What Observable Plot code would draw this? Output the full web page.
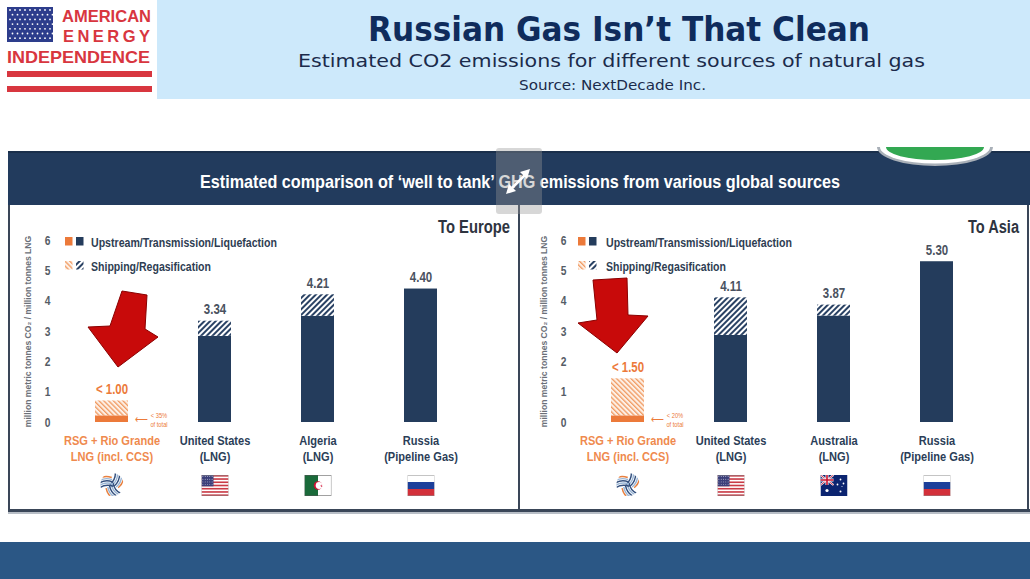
<!DOCTYPE html>
<html>
<head>
<meta charset="utf-8">
<script src="https://cdn.jsdelivr.net/npm/d3@7"></script>
<script src="https://cdn.jsdelivr.net/npm/@observablehq/plot@0.6"></script>
<style>
  html, body { margin: 0; padding: 0; background: #fff; }
  #page { position: relative; width: 1030px; height: 579px; overflow: hidden; background: #fff; }
  .abs { position: absolute; left: 0; top: 0; }
</style>
</head>
<body>
<div id="page">
<svg class="abs" id="deco" width="1030" height="579"></svg>
<div id="leftPanel" style="position:absolute;left:8px;top:205px;"></div>
<div id="rightPanel" style="position:absolute;left:519px;top:205px;"></div>
<svg class="abs" id="over" width="1030" height="579" style="pointer-events:none"></svg>
</div>
<svg width="0" height="0" style="position:absolute">
  <defs>
    <pattern id="hatchNavy" patternUnits="userSpaceOnUse" width="4" height="4" patternTransform="rotate(45)">
      <rect width="4" height="4" fill="#ffffff"/>
      <rect width="2" height="4" fill="#2a4264"/>
    </pattern>
    <pattern id="hatchOrange" patternUnits="userSpaceOnUse" width="3.4" height="3.4" patternTransform="rotate(-45)">
      <rect width="3.4" height="3.4" fill="#fdf0e6"/>
      <rect width="1.3" height="3.4" fill="#f09a62"/>
    </pattern>
  </defs>
</svg>
<script>
// ---------------- DATA ----------------
const yTicks = [0, 1, 2, 3, 4, 5, 6];

const europeCategories = ["RSG + Rio Grande\nLNG (incl. CCS)", "United States\n(LNG)", "Algeria\n(LNG)", "Russia\n(Pipeline Gas)"];
const europeUpstream = [0.22, 2.84, 3.50, 4.40];
const europeShipping = [0.49, 0.50, 0.71, 0.00];
const europeTotals = ["< 1.00", "3.34", "4.21", "4.40"];
const europeFlags = ["rsg", "us", "dz", "ru"];

const asiaCategories = ["RSG + Rio Grande\nLNG (incl. CCS)", "United States\n(LNG)", "Australia\n(LNG)", "Russia\n(Pipeline Gas)"];
const asiaUpstream = [0.22, 2.87, 3.51, 5.30];
const asiaShipping = [1.22, 1.24, 0.36, 0.00];
const asiaTotals = ["< 1.50", "4.11", "3.87", "5.30"];
const asiaFlags = ["rsg", "us", "au", "ru"];

const shareOfTotal = ["< 35%\nof total", "< 20%\nof total"];
const panelTitles = ["To Europe", "To Asia"];
const legendLabels = ["Upstream/Transmission/Liquefaction", "Shipping/Regasification"];
const yLabel = "million metric tonnes CO\u2082 / million tonnes LNG";

const pageTitle = "Russian Gas Isn\u2019t That Clean";
const pageSubtitle = "Estimated CO2 emissions for different sources of natural gas";
const pageSource = "Source: NextDecade Inc.";
const bannerText = "Estimated comparison of \u2018well to tank\u2019 GHG emissions from various global sources";

// ---------------- STYLE ----------------
const NAVY = "#243c5c";
const ORANGE = "#ec7a3a";
const LABEL_NAVY = "#2b3e58";
const GRAY = "#555c66";
const CHART_FONT = "'Liberation Sans Narrow', 'Liberation Sans', Arial, sans-serif";
const HEAD_FONT = "'DejaVu Sans Condensed', 'DejaVu Sans', sans-serif";
const NARROW = 0.82;
const NS = "http://www.w3.org/2000/svg";

function el(parent, tag, attrs, text) {
  const e = document.createElementNS(NS, tag);
  for (const k in attrs) e.setAttribute(k, attrs[k]);
  if (text != null) e.textContent = text;
  parent.appendChild(e);
  return e;
}

// ---------------- FLAG ICONS ----------------
function usFlag() {
  let s = '<svg xmlns="http://www.w3.org/2000/svg" width="27" height="21" viewBox="0 0 27 21"><rect width="27" height="21" fill="#fff"/>';
  const h = 21 / 13;
  for (let i = 0; i < 13; i += 2) s += `<rect y="${i * h}" width="27" height="${h}" fill="#c93a45"/>`;
  s += '<rect width="12" height="11.3" fill="#3c3f7a"/>';
  for (let r = 0; r < 4; r++) for (let c = 0; c < 5; c++) s += `<circle cx="${1.4 + c * 2.3}" cy="${1.5 + r * 2.7}" r="0.45" fill="#fff"/>`;
  s += '<rect x="0.25" y="0.25" width="26.5" height="20.5" fill="none" stroke="#8a8a8a" stroke-width="0.5"/></svg>';
  return s;
}
function ruFlag() {
  return '<svg xmlns="http://www.w3.org/2000/svg" width="27" height="21" viewBox="0 0 27 21"><rect width="27" height="7" fill="#fff"/><rect y="7" width="27" height="7" fill="#1c3f9a"/><rect y="14" width="27" height="7" fill="#d3303a"/><rect x="0.25" y="0.25" width="26.5" height="20.5" fill="none" stroke="#8a8a8a" stroke-width="0.5"/></svg>';
}
function dzFlag() {
  return '<svg xmlns="http://www.w3.org/2000/svg" width="27" height="21" viewBox="0 0 27 21"><rect width="27" height="21" fill="#fff"/><rect width="13.5" height="21" fill="#1a6a3a"/><circle cx="13.5" cy="10.5" r="4.2" fill="#d21034"/><circle cx="14.6" cy="10.5" r="3.4" fill="#fff"/><polygon points="16,10.5 17.4,9.4 17,11.1 18.1,12 16.6,11.7" fill="#d21034"/><rect x="0.25" y="0.25" width="26.5" height="20.5" fill="none" stroke="#555" stroke-width="0.6"/></svg>';
}
function auFlag() {
  return '<svg xmlns="http://www.w3.org/2000/svg" width="27" height="21" viewBox="0 0 27 21"><rect width="27" height="21" fill="#0b2470"/>' +
    '<g><rect width="13" height="10" fill="#0b2470"/><path d="M0 0 L13 10 M13 0 L0 10" stroke="#fff" stroke-width="2"/><path d="M0 0 L13 10 M13 0 L0 10" stroke="#c8102e" stroke-width="0.8"/><path d="M6.5 0 V10 M0 5 H13" stroke="#fff" stroke-width="3"/><path d="M6.5 0 V10 M0 5 H13" stroke="#c8102e" stroke-width="1.6"/></g>' +
    '<circle cx="6.5" cy="15.5" r="1.6" fill="#fff"/><circle cx="20" cy="4.5" r="0.9" fill="#fff"/><circle cx="17" cy="9.5" r="0.9" fill="#fff"/><circle cx="23" cy="8.5" r="0.9" fill="#fff"/><circle cx="20" cy="16.5" r="1" fill="#fff"/><circle cx="21.5" cy="11.5" r="0.5" fill="#fff"/></svg>';
}
function rsgLogo() {
  let s = '<svg xmlns="http://www.w3.org/2000/svg" width="27" height="27" viewBox="-14 -14 28 28"><defs><clipPath id="c"><circle r="12"/></clipPath></defs><g clip-path="url(#c)">';
  const cols = ["#34507e", "#9ab6d6", "#34507e", "#9ab6d6", "#e8803f"];
  for (let k = 0; k < 3; k++) {
    s += `<g transform="rotate(${k * 120 + 20})">`;
    for (let j = 0; j < 5; j++) {
      s += `<path d="M ${-2 + j * 2.3} 1 Q ${2 + j * 2.3} -6 ${-1 + j * 2.3} -13" stroke="${cols[j]}" stroke-width="1.5" fill="none"/>`;
    }
    s += '</g>';
  }
  s += '</g></svg>';
  return s;
}
const flagSvg = { us: usFlag(), ru: ruFlag(), dz: dzFlag(), au: auFlag(), rsg: rsgLogo() };
const uri = (s) => "data:image/svg+xml;charset=utf-8," + encodeURIComponent(s);

// ---------------- PANEL CHART ----------------
function makePanel(cats, up, ship, totals, flags, share, ml, mr) {
  const rows = [];
  cats.forEach((c, i) => {
    rows.push({ cat: c, part: "up", y1: 0, y2: up[i], rsg: i === 0 });
    rows.push({ cat: c, part: "ship", y1: up[i], y2: up[i] + ship[i], rsg: i === 0 });
  });
  const tops = cats.map((c, i) => ({ cat: c, y: up[i] + ship[i], label: totals[i], rsg: i === 0, flag: flags[i] }));
  const rsgRow = [{ cat: cats[0], y: up[0] / 2, share }];

  const svg = Plot.plot({
    width: 511,
    height: 305,
    marginLeft: ml,
    marginRight: mr,
    marginTop: 35,
    marginBottom: 88,
    style: { background: "transparent", fontFamily: CHART_FONT, overflow: "visible" },
    x: { domain: cats, paddingInner: 0.68, paddingOuter: 0.37, axis: null },
    y: { domain: [0, 6] },
    marks: [
      Plot.axisY({ ticks: yTicks, tickFormat: "d", tickSize: 0, tickPadding: 5, fontSize: 12.5, fontWeight: "bold", label: null, color: GRAY, fill: GRAY }),
      Plot.text([yLabel], { frameAnchor: "left", textAnchor: "middle", dx: -27, rotate: -90, fontSize: 8.6, fontWeight: "bold", fill: "#6b7078", text: (d) => d }),
      Plot.barY(rows.filter((d) => d.part === "up" && d.rsg), { x: "cat", y1: "y1", y2: "y2", fill: ORANGE }),
      Plot.barY(rows.filter((d) => d.part === "ship" && d.rsg), { x: "cat", y1: "y1", y2: "y2", fill: "url(#hatchOrange)" }),
      Plot.barY(rows.filter((d) => d.part === "up" && !d.rsg), { x: "cat", y1: "y1", y2: "y2", fill: NAVY }),
      Plot.barY(rows.filter((d) => d.part === "ship" && !d.rsg && d.y2 > d.y1), { x: "cat", y1: "y1", y2: "y2", fill: "url(#hatchNavy)" }),
      Plot.text(tops.filter((d) => !d.rsg), { x: "cat", y: "y", text: "label", dy: -7, lineAnchor: "bottom", fontSize: 14, fontWeight: "bold", fill: "#4a5260" }),
      Plot.text(tops.filter((d) => d.rsg), { x: "cat", y: "y", text: "label", dy: -7, lineAnchor: "bottom", fontSize: 14, fontWeight: "bold", fill: ORANGE }),
      Plot.text(rsgRow, { x: "cat", y: "y", text: () => "\u27F5", dx: 29, fontSize: 11, fill: ORANGE }),
      Plot.text(rsgRow, { x: "cat", y: "y", text: "share", dx: 47, fontSize: 7, lineHeight: 1.3, fill: ORANGE }),
      Plot.text(tops.filter((d) => !d.rsg), { x: "cat", frameAnchor: "bottom", text: "cat", lineAnchor: "top", dy: 11, fontSize: 13.5, lineHeight: 1.2, fontWeight: "bold", fill: LABEL_NAVY }),
      Plot.text(tops.filter((d) => d.rsg), { x: "cat", frameAnchor: "bottom", text: "cat", lineAnchor: "top", dy: 11, fontSize: 13.5, lineHeight: 1.2, fontWeight: "bold", fill: "#ef8a4e" }),
      Plot.image(tops.filter((d) => !d.rsg), { x: "cat", frameAnchor: "bottom", dy: 63, width: 27, height: 21, src: (d) => uri(flagSvg[d.flag]) }),
      Plot.image(tops.filter((d) => d.rsg), { x: "cat", frameAnchor: "bottom", dy: 62, width: 27, height: 27, src: (d) => uri(flagSvg[d.flag]) })
    ]
  });
  svg.querySelectorAll("text").forEach((t) => {
    if (t.textContent.indexOf("million") >= 0) return;
    const tr = t.getAttribute("transform") || "";
    t.setAttribute("transform", tr + ` scale(${NARROW},1)`);
  });
  return svg;
}

document.getElementById("leftPanel").appendChild(
  makePanel(europeCategories, europeUpstream, europeShipping, europeTotals, europeFlags, shareOfTotal[0], 47, 42));
document.getElementById("rightPanel").appendChild(
  makePanel(asiaCategories, asiaUpstream, asiaShipping, asiaTotals, asiaFlags, shareOfTotal[1], 52, 37));

// ---------------- DECORATION (behind) ----------------
const deco = document.getElementById("deco");
el(deco, "rect", { x: 157, y: 0, width: 873, height: 99, fill: "#cde9fb" });
el(deco, "rect", { x: 7, y: 7, width: 46, height: 35, fill: "#2d3d8c" });
for (let r = 0; r < 7; r++) for (let c = 0; c < 9; c++) {
  el(deco, "circle", { cx: 10 + c * 5 + (r % 2 ? 2.5 : 0), cy: 10 + r * 4.7, r: 0.9, fill: "#fff" });
}
const RED = "#d8363f";
el(deco, "text", { x: 62, y: 22, "font-family": "'Liberation Sans', Arial, sans-serif", "font-weight": "bold", "font-size": 16.5, fill: RED, textLength: 89, lengthAdjust: "spacingAndGlyphs" }, "AMERICAN");
el(deco, "text", { x: 63, y: 42, "font-family": "'Liberation Sans', Arial, sans-serif", "font-weight": "bold", "font-size": 16.5, fill: RED, textLength: 87, lengthAdjust: "spacing" }, "ENERGY");
el(deco, "text", { x: 7, y: 63, "font-family": "'Liberation Sans', Arial, sans-serif", "font-weight": "bold", "font-size": 17, fill: RED, textLength: 143, lengthAdjust: "spacingAndGlyphs" }, "INDEPENDENCE");
el(deco, "rect", { x: 7, y: 71, width: 145, height: 6, fill: RED });
el(deco, "rect", { x: 7, y: 86, width: 145, height: 6, fill: RED });
el(deco, "text", { x: 619, y: 41, "text-anchor": "middle", "font-family": HEAD_FONT, "font-weight": "bold", "font-size": 34, fill: "#0f2c5c", textLength: 502, lengthAdjust: "spacingAndGlyphs" }, pageTitle);
el(deco, "text", { x: 611.5, y: 67, "text-anchor": "middle", "font-family": HEAD_FONT, "font-size": 18.5, fill: "#1b2b4b", textLength: 627, lengthAdjust: "spacingAndGlyphs" }, pageSubtitle);
el(deco, "text", { x: 612.5, y: 90, "text-anchor": "middle", "font-family": HEAD_FONT, "font-size": 14, fill: "#1b2b4b", textLength: 187, lengthAdjust: "spacingAndGlyphs" }, pageSource);
el(deco, "rect", { x: 8, y: 151, width: 1022, height: 54, fill: "#223b5d" });
el(deco, "rect", { x: 8, y: 151, width: 1022, height: 2, fill: "#1a2f4b" });
el(deco, "text", { x: 520, y: 187.5, "text-anchor": "middle", "font-family": CHART_FONT, "font-weight": "bold", "font-size": 18.5, fill: "#ffffff", textLength: 640, lengthAdjust: "spacingAndGlyphs" }, bannerText);
el(deco, "rect", { x: 0, y: 542, width: 1030, height: 37, fill: "#2b5785" });

// ---------------- OVERLAY ----------------
const over = document.getElementById("over");
el(over, "rect", { x: 8, y: 205, width: 2, height: 306, fill: "#3a4658" });
el(over, "rect", { x: 518, y: 205, width: 2, height: 306, fill: "#3a4658" });
el(over, "rect", { x: 1027, y: 205, width: 2, height: 306, fill: "#3a4658" });
el(over, "rect", { x: 8, y: 509, width: 1022, height: 3, fill: "#3a4658" });
el(over, "rect", { x: 8, y: 512, width: 1022, height: 2, fill: "#b8bec6" });

el(over, "path", { d: "M 877 147 A 58 19 0 0 0 993 147 Z", fill: "#a9b0b8" });
el(over, "path", { d: "M 880 147 A 55 16.5 0 0 0 990 147 Z", fill: "#ffffff" });
el(over, "path", { d: "M 886 147 A 49 13 0 0 0 984 147 Z", fill: "#33a852" });

function legend(px, sx, tx) {
  const g = el(over, "g", {});
  el(g, "rect", { x: px + sx, y: 237, width: 7.5, height: 8.5, fill: ORANGE });
  el(g, "rect", { x: px + sx + 11, y: 237, width: 7.5, height: 8.5, fill: NAVY });
  el(g, "rect", { x: px + sx, y: 261, width: 7.5, height: 8.5, fill: "url(#hatchOrange)" });
  el(g, "rect", { x: px + sx + 11, y: 261, width: 7.5, height: 8.5, fill: "url(#hatchNavy)" });
  el(g, "text", { x: px + tx, y: 246.5, "font-family": CHART_FONT, "font-weight": "bold", "font-size": 13, fill: "#2e3d52", textLength: 186, lengthAdjust: "spacingAndGlyphs" }, legendLabels[0]);
  el(g, "text", { x: px + tx, y: 270.5, "font-family": CHART_FONT, "font-weight": "bold", "font-size": 13, fill: "#2e3d52", textLength: 120, lengthAdjust: "spacingAndGlyphs" }, legendLabels[1]);
}
legend(8, 57, 83);
legend(519, 59, 87);
el(over, "text", { x: 510, y: 233, "text-anchor": "end", "font-family": CHART_FONT, "font-weight": "bold", "font-size": 18, fill: "#2e3440", textLength: 72, lengthAdjust: "spacingAndGlyphs" }, panelTitles[0]);
el(over, "text", { x: 968, y: 233, "font-family": CHART_FONT, "font-weight": "bold", "font-size": 18, fill: "#2e3440", textLength: 51, lengthAdjust: "spacingAndGlyphs" }, panelTitles[1]);

function redArrow(pts) {
  el(over, "polygon", { points: pts, fill: "#c80a0a", stroke: "#8a0000", "stroke-width": 1, "stroke-linejoin": "round" });
}
redArrow("122,291 147,295 145,329 158,337 118,367 88,327 110,326");
redArrow("593,280 627,278 628,315 648,316 617,353 578,323 597,320");

el(over, "rect", { x: 496, y: 148, width: 46, height: 66, rx: 3, fill: "rgba(150,150,150,0.38)" });
el(over, "line", { x1: 510, y1: 190, x2: 527, y2: 173, stroke: "#fff", "stroke-width": 2.5 });
el(over, "polygon", { points: "530,169 520,172 527,179", fill: "#fff" });
el(over, "polygon", { points: "506,194 509,184 516,191", fill: "#fff" });
</script>
</body>
</html>
